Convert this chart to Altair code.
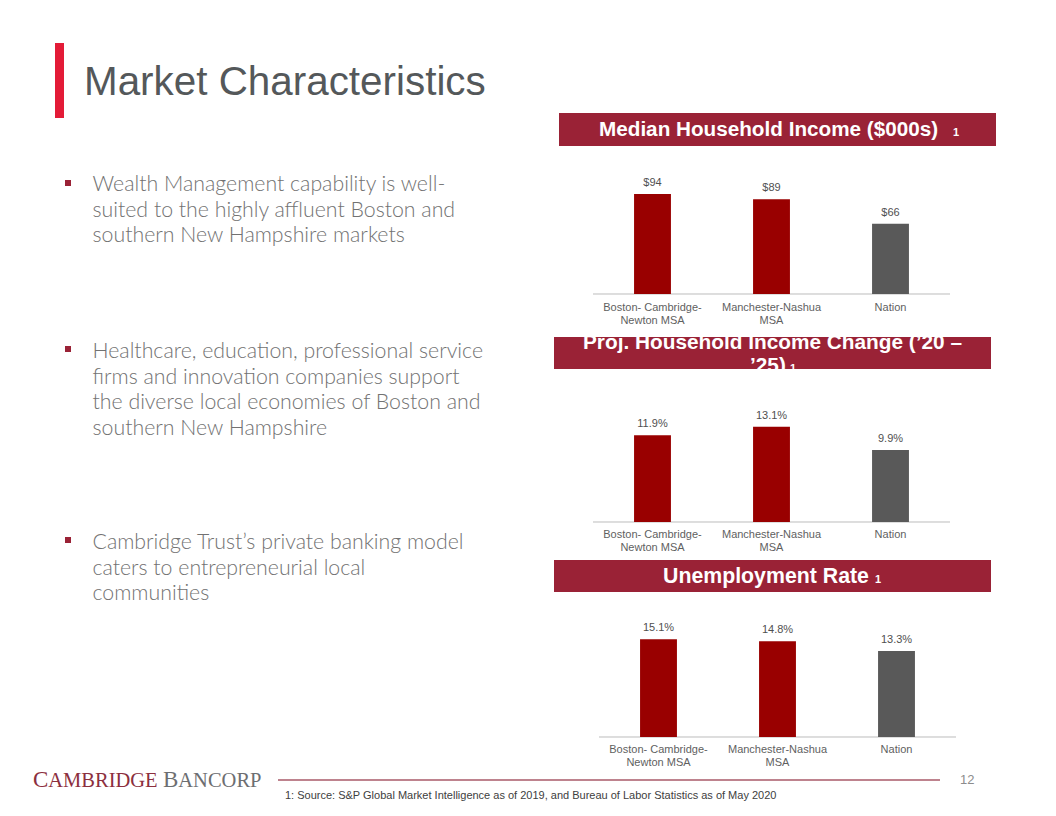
import altair as alt
import pandas as pd

# ---------------- data ----------------
CATEGORIES = ["Boston- Cambridge- Newton MSA", "Manchester-Nashua MSA", "Nation"]
CAT_LABELS = ["Boston- Cambridge-\nNewton MSA", "Manchester-Nashua\nMSA", "Nation"]
KINDS = ["MSA", "MSA", "Nation"]

INCOME = [94, 89, 66]
INCOME_TXT = ["$94", "$89", "$66"]

PROJ_CHANGE = [11.9, 13.1, 9.9]
PROJ_TXT = ["11.9%", "13.1%", "9.9%"]

UNEMP = [15.1, 14.8, 13.3]
UNEMP_TXT = ["15.1%", "14.8%", "13.3%"]

TITLE = "Market Characteristics"
HEADERS = ["Median Household Income ($000s)", "Proj. Household Income Change (\u201920 \u2013", "\u201925)", "Unemployment Rate"]
BULLETS = [
    ["Wealth Management capability is well-", "suited to the highly affluent Boston and", "southern New Hampshire markets"],
    ["Healthcare, education, professional service", "firms and innovation companies support",
     "the diverse local economies of Boston and", "southern New Hampshire"],
    ["Cambridge Trust\u2019s private banking model", "caters to entrepreneurial local", "communities"],
]
FOOTNOTE = "1: Source: S&P Global Market Intelligence as of 2019, and Bureau of Labor Statistics as of May 2020"
PAGE_NO = "12"

# ---------------- style ----------------
RED_BAR = "#990000"
GRAY_BAR = "#595959"
HEAD_BG = "#9A2236"
MAROON = "#8C2F3E"
OFF = 8  # page margin

one = pd.DataFrame({"k": [0]})


def P(v):
    return v - OFF


def rect(x, x2, y, y2, color):
    return alt.Chart(one).mark_rect(color=color).encode(
        x=alt.value(P(x)), x2=alt.value(P(x2)), y=alt.value(P(y)), y2=alt.value(P(y2)))


def txt(text, x, y, size, color, font="Liberation Sans", weight="normal",
        align="left", baseline="alphabetic", line_height=None):
    kw = dict(text=text, fontSize=size, color=color, font=font, fontWeight=weight,
              align=align, baseline=baseline)
    if line_height is not None:
        kw["lineHeight"] = line_height
    return alt.Chart(one).mark_text(**kw).encode(x=alt.value(P(x)), y=alt.value(P(y)))


def panel(values, texts, xr, yr, ymax, label_y):
    df = pd.DataFrame({"cat": CATEGORIES, "label": CAT_LABELS, "value": values,
                       "text": texts, "kind": KINDS})
    xs = alt.Scale(type="band", domain=CATEGORIES, range=[P(xr[0]), P(xr[1])],
                   paddingInner=0.69, paddingOuter=0.345)
    ys = alt.Scale(domain=[0, ymax], range=[P(yr[0]), P(yr[1])])
    X = alt.X("cat:N", scale=xs, axis=None, sort=CATEGORIES)
    Y = alt.Y("value:Q", scale=ys, axis=None)
    base = alt.Chart(df)
    rule = base.mark_rule(color="#d9d9d9", strokeWidth=1).encode(
        x=alt.value(P(xr[0])), x2=alt.value(P(xr[1])), y=alt.value(P(yr[0])))
    bars = base.mark_bar().encode(
        x=X, y=Y,
        color=alt.Color("kind:N", scale=alt.Scale(domain=["MSA", "Nation"], range=[RED_BAR, GRAY_BAR]),
                        legend=None))
    vals = base.mark_text(baseline="middle", dy=-11, fontSize=11, color="#505050",
                          font="Liberation Sans").encode(x=X, y=Y, text="text:N")
    cats = base.mark_text(baseline="middle", lineBreak="\n", lineHeight=13, fontSize=11,
                          color="#5F5F5F", font="Liberation Sans").encode(
        x=X, y=alt.value(P(label_y)), text="label:N")
    return alt.layer(rule, bars, vals, cats)


layers = []

# title
layers.append(rect(55, 64, 43, 118, "#E31B37"))
layers.append(txt(TITLE, 84, 95, 40.4, "#54585A"))

# bullets
bullet_tops = [180, 346, 537]
bullet_base = [191, 358, 549]
for top, bl, lines in zip(bullet_tops, bullet_base, BULLETS):
    layers.append(rect(65, 71, top, top + 6, HEAD_BG))
    layers.append(txt(lines, 92.5, bl, 21.3, "#727272", font="Lato", weight=300, line_height=25.7))

# header boxes
layers.append(rect(559, 996, 113, 146, HEAD_BG))
layers.append(txt(HEADERS[0], 599, 136, 20.7, "white", weight="bold"))
layers.append(txt("1", 953, 136, 11, "white", weight="bold"))

layers.append(rect(554, 991, 337, 369, HEAD_BG))
layers.append(txt(HEADERS[1], 583, 349, 20.8, "white", weight="bold"))
layers.append(txt(HEADERS[2], 750, 372, 20.8, "white", weight="bold"))
layers.append(txt("1", 790, 372, 11, "white", weight="bold"))

layers.append(rect(554, 991, 560, 592, HEAD_BG))
layers.append(txt(HEADERS[3], 663, 583, 21.3, "white", weight="bold"))
layers.append(txt("1", 875, 583, 11, "white", weight="bold"))

# footer
layers.append(txt("C", 33, 787, 23, MAROON, font="Liberation Serif"))
layers.append(txt("AMBRIDGE", 48.3, 787, 20.5, MAROON, font="Liberation Serif"))
layers.append(txt("B", 163, 787, 23, "#6D6E71", font="Liberation Serif"))
layers.append(txt("ANCORP", 178.3, 787, 20.5, "#6D6E71", font="Liberation Serif"))
layers.append(alt.Chart(one).mark_rule(color="#A85A68", strokeWidth=1.5).encode(
    x=alt.value(P(278)), x2=alt.value(P(940)), y=alt.value(P(780))))
layers.append(txt(PAGE_NO, 960, 784, 13, "#8C8C8C"))
layers.append(txt(FOOTNOTE, 285, 799, 11, "#404040"))

# panels
layers.append(panel(INCOME, INCOME_TXT, (593, 950), (294, 187.6), 100, 308))
layers.append(panel(PROJ_CHANGE, PROJ_TXT, (593, 950), (522, 412.8), 15, 535))
layers.append(panel(UNEMP, UNEMP_TXT, (599, 956), (737, 633.5), 16, 750))

chart = alt.layer(*layers).resolve_scale(x="independent", y="independent").properties(
    width=1040, height=800, padding=0, autosize="none", background="white"
).configure_view(stroke=None)

chart.save("out.html", embed_options={"renderer": "svg", "actions": False})
